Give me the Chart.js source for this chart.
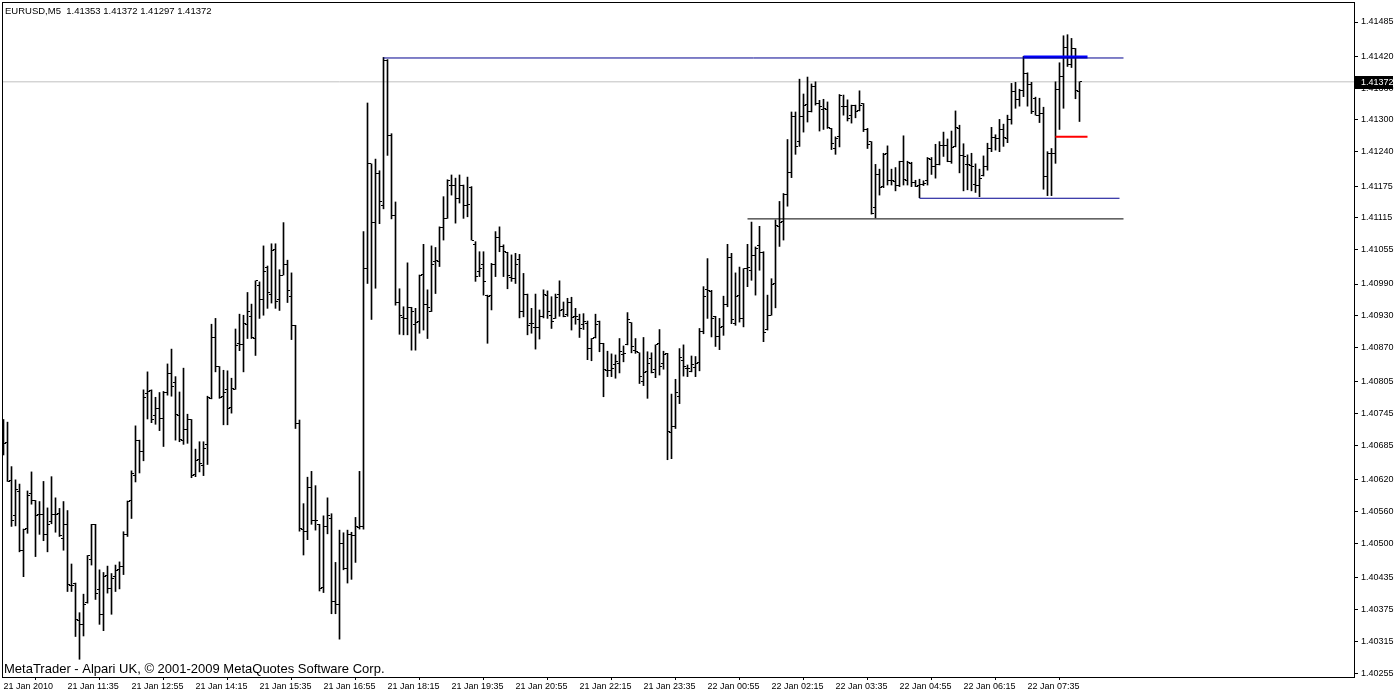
<!DOCTYPE html>
<html>
<head>
<meta charset="utf-8">
<script src="https://cdn.jsdelivr.net/npm/chart.js@4.4.0/dist/chart.umd.min.js"></script>
<style>
  html, body { margin: 0; padding: 0; background: #fff; }
  #wrap { width: 1394px; height: 694px; }
</style>
</head>
<body>
<div id="wrap"><canvas id="chart" width="1394" height="694"></canvas></div>
<script>
// EURUSD M5 bars, 21 Jan 2010 10:15 .. 22 Jan 08:40
const opens = [
  1.40720,1.40691,1.40618,1.40552,1.40598,1.40487,1.40528,1.40595,1.40581,1.40554,
  1.40555,1.40516,1.40542,1.40555,1.40557,1.40509,1.40536,1.40421,1.40425,1.40355,
  1.40346,1.40388,1.40469,1.40536,1.40413,1.40366,1.40440,1.40414,1.40437,1.40451,
  1.40457,1.40516,1.40581,1.40629,1.40695,1.40674,1.40783,1.40788,1.40742,1.40754,
  1.40736,1.40785,1.40821,1.40804,1.40742,1.40694,1.40716,1.40734,1.40631,1.40659,
  1.40648,1.40686,1.40773,1.40889,1.40834,1.40777,1.40791,1.40757,1.40791,1.40877,
  1.40875,1.40913,1.40928,1.40887,1.40988,1.40960,1.41022,1.40971,1.41056,1.40960,
  1.41007,1.41026,1.40967,1.40911,1.40727,1.40527,1.40523,1.40605,1.40543,1.40536,
  1.40417,1.40532,1.40547,1.40391,1.40385,1.40500,1.40452,1.40516,1.40514,1.40530,
  1.40532,1.41020,1.41217,1.41106,1.41199,1.41138,1.41412,1.41271,1.41120,1.40955,
  1.40926,1.40925,1.40946,1.40914,1.40919,1.41008,1.40952,1.40938,1.41032,1.41032,
  1.41097,1.41114,1.41177,1.41176,1.41152,1.41177,1.41138,1.41173,1.41065,1.41013,
  1.41026,1.40969,1.40969,1.41026,1.41078,1.41061,1.41050,1.41002,1.41001,1.41037,
  1.40938,1.40971,1.40916,1.40908,1.40908,1.40928,1.40969,1.40931,1.40925,1.40971,
  1.40941,1.40933,1.40955,1.40929,1.40923,1.40914,1.40915,1.40868,1.40888,1.40920,
  1.40878,1.40827,1.40827,1.40837,1.40839,1.40856,1.40876,1.40917,1.40865,1.40860,
  1.40805,1.40825,1.40849,1.40829,1.40878,1.40840,1.40859,1.40709,1.40721,1.40778,
  1.40846,1.40830,1.40825,1.40832,1.40841,1.40900,1.40979,1.40975,1.40928,1.40890,
  1.40909,1.40951,1.41041,1.40915,1.40969,1.40925,1.41019,1.41016,1.41043,1.41063,
  1.41049,1.40904,1.40931,1.40991,1.41099,1.41109,1.41159,1.41201,1.41306,1.41259,
  1.41306,1.41329,1.41315,1.41363,1.41331,1.41320,1.41320,1.41284,1.41246,1.41268,
  1.41325,1.41325,1.41308,1.41327,1.41317,1.41331,1.41281,1.41259,1.41134,1.41196,
  1.41174,1.41237,1.41185,1.41183,1.41177,1.41221,1.41186,1.41218,1.41181,1.41176,
  1.41178,1.41185,1.41226,1.41212,1.41215,1.41251,1.41251,1.41221,1.41249,1.41283,
  1.41232,1.41215,1.41214,1.41178,1.41177,1.41195,1.41212,1.41246,1.41267,1.41265,
  1.41281,1.41265,1.41300,1.41353,1.41338,1.41355,1.41388,1.41366,1.41341,1.41309,
  1.41313,1.41194,1.41237,1.41236,1.41357,1.41382,1.41437,1.41404,1.41435,1.41353
];
const highs = [
  1.40734,1.40729,1.40645,1.40620,1.40612,1.40527,1.40599,1.40635,1.40581,1.40579,
  1.40617,1.40567,1.40626,1.40586,1.40566,1.40579,1.40562,1.40461,1.40425,1.40369,
  1.40404,1.40477,1.40536,1.40536,1.40450,1.40445,1.40457,1.40443,1.40459,1.40465,
  1.40522,1.40580,1.40637,1.40722,1.40695,1.40790,1.40824,1.40790,1.40776,1.40785,
  1.40787,1.40839,1.40867,1.40815,1.40786,1.40831,1.40744,1.40734,1.40678,1.40692,
  1.40692,1.40778,1.40914,1.40925,1.40834,1.40827,1.40826,1.40812,1.40905,1.40933,
  1.40931,1.40974,1.40952,1.40996,1.40994,1.41062,1.41024,1.41066,1.41066,1.41017,
  1.41106,1.41035,1.41011,1.40912,1.40733,1.40575,1.40625,1.40636,1.40609,1.40536,
  1.40552,1.40586,1.40556,1.40464,1.40525,1.40520,1.40525,1.40521,1.40549,1.40636,
  1.41089,1.41332,1.41217,1.41226,1.41204,1.41418,1.41414,1.41274,1.41145,1.40981,
  1.40947,1.41030,1.40946,1.40944,1.41007,1.41065,1.40979,1.41062,1.41059,1.41098,
  1.41155,1.41187,1.41196,1.41190,1.41196,1.41177,1.41192,1.41174,1.41070,1.41051,
  1.41051,1.40969,1.41029,1.41089,1.41098,1.41064,1.41050,1.41045,1.41048,1.41046,
  1.41010,1.40971,1.40944,1.40971,1.40941,1.40979,1.40977,1.40966,1.40971,1.40996,
  1.40956,1.40963,1.40965,1.40944,1.40933,1.40934,1.40920,1.40887,1.40933,1.40920,
  1.40878,1.40863,1.40858,1.40856,1.40887,1.40873,1.40936,1.40917,1.40887,1.40860,
  1.40889,1.40862,1.40860,1.40875,1.40904,1.40863,1.40859,1.40782,1.40810,1.40868,
  1.40875,1.40837,1.40854,1.40853,1.40906,1.40985,1.41038,1.40978,1.40929,1.40925,
  1.40967,1.41065,1.41048,1.41011,1.41022,1.41019,1.41065,1.41107,1.41060,1.41099,
  1.41051,1.40969,1.41000,1.41111,1.41146,1.41161,1.41263,1.41315,1.41315,1.41377,
  1.41349,1.41381,1.41368,1.41372,1.41337,1.41339,1.41334,1.41284,1.41268,1.41348,
  1.41347,1.41338,1.41328,1.41328,1.41355,1.41331,1.41284,1.41259,1.41216,1.41207,
  1.41237,1.41251,1.41207,1.41210,1.41222,1.41270,1.41222,1.41220,1.41186,1.41188,
  1.41185,1.41229,1.41229,1.41254,1.41259,1.41277,1.41264,1.41279,1.41317,1.41290,
  1.41255,1.41234,1.41237,1.41217,1.41207,1.41232,1.41256,1.41286,1.41272,1.41301,
  1.41292,1.41309,1.41369,1.41371,1.41358,1.41420,1.41389,1.41371,1.41343,1.41341,
  1.41324,1.41240,1.41246,1.41372,1.41408,1.41459,1.41461,1.41454,1.41435,1.41372
];
const lows = [
  1.40667,1.40617,1.40532,1.40533,1.40484,1.40437,1.40519,1.40574,1.40475,1.40517,
  1.40505,1.40484,1.40537,1.40521,1.40513,1.40487,1.40409,1.40409,1.40324,1.40281,
  1.40325,1.40387,1.40459,1.40394,1.40347,1.40335,1.40406,1.40366,1.40409,1.40414,
  1.40441,1.40513,1.40547,1.40616,1.40633,1.40656,1.40735,1.40728,1.40725,1.40713,
  1.40683,1.40780,1.40778,1.40695,1.40692,1.40687,1.40689,1.40624,1.40626,1.40635,
  1.40628,1.40649,1.40773,1.40824,1.40774,1.40724,1.40724,1.40746,1.40791,1.40864,
  1.40824,1.40887,1.40887,1.40855,1.40925,1.40931,1.40944,1.40954,1.40944,1.40940,
  1.41007,1.40955,1.40885,1.40717,1.40523,1.40478,1.40507,1.40536,1.40525,1.40410,
  1.40407,1.40518,1.40367,1.40367,1.40319,1.40450,1.40425,1.40432,1.40464,1.40527,
  1.40527,1.40991,1.40923,1.40982,1.41104,1.41132,1.41233,1.41113,1.40950,1.40895,
  1.40894,1.40894,1.40865,1.40865,1.40897,1.40903,1.40887,1.40938,1.40972,1.41023,
  1.41073,1.41114,1.41158,1.41105,1.41143,1.41114,1.41117,1.41073,1.40995,1.41004,
  1.40969,1.40878,1.40941,1.41004,1.41051,1.41004,1.40981,1.40995,1.40991,1.40926,
  1.40928,1.40894,1.40897,1.40867,1.40886,1.40926,1.40925,1.40906,1.40925,1.40929,
  1.40928,1.40929,1.40903,1.40914,1.40889,1.40904,1.40847,1.40845,1.40888,1.40862,
  1.40777,1.40815,1.40815,1.40812,1.40822,1.40843,1.40875,1.40860,1.40859,1.40802,
  1.40798,1.40774,1.40822,1.40813,1.40818,1.40829,1.40658,1.40660,1.40717,1.40764,
  1.40816,1.40815,1.40824,1.40815,1.40826,1.40896,1.40925,1.40890,1.40872,1.40866,
  1.40893,1.40947,1.40915,1.40912,1.40918,1.40909,1.40985,1.40997,1.40969,1.41016,
  1.40881,1.40903,1.40931,1.40945,1.41061,1.41073,1.41137,1.41191,1.41235,1.41250,
  1.41277,1.41296,1.41315,1.41328,1.41279,1.41282,1.41284,1.41244,1.41235,1.41249,
  1.41309,1.41298,1.41294,1.41304,1.41317,1.41278,1.41246,1.41122,1.41115,1.41158,
  1.41172,1.41177,1.41177,1.41166,1.41174,1.41177,1.41177,1.41174,1.41174,1.41153,
  1.41176,1.41177,1.41197,1.41190,1.41215,1.41231,1.41221,1.41218,1.41249,1.41200,
  1.41166,1.41168,1.41166,1.41163,1.41155,1.41194,1.41205,1.41240,1.41243,1.41240,
  1.41250,1.41257,1.41292,1.41322,1.41326,1.41344,1.41326,1.41312,1.41309,1.41295,
  1.41169,1.41157,1.41157,1.41218,1.41282,1.41322,1.41401,1.41399,1.41340,1.41297
];
const closes = [
  1.40689,1.40617,1.40544,1.40601,1.40487,1.40526,1.40591,1.40581,1.40552,1.40555,
  1.40516,1.40536,1.40555,1.40555,1.40514,1.40536,1.40423,1.40421,1.40356,1.40346,
  1.40385,1.40477,1.40536,1.40406,1.40365,1.40437,1.40415,1.40433,1.40448,1.40457,
  1.40516,1.40579,1.40632,1.40695,1.40674,1.40776,1.40787,1.40734,1.40754,1.40735,
  1.40785,1.40821,1.40797,1.40744,1.40697,1.40716,1.40734,1.40629,1.40657,1.40650,
  1.40679,1.40775,1.40889,1.40834,1.40775,1.40785,1.40755,1.40792,1.40873,1.40875,
  1.40916,1.40938,1.40889,1.40996,1.40960,1.41013,1.40974,1.41053,1.40957,1.41007,
  1.41026,1.40977,1.40911,1.40727,1.40529,1.40523,1.40605,1.40543,1.40543,1.40414,
  1.40532,1.40552,1.40391,1.40385,1.40500,1.40452,1.40516,1.40514,1.40532,1.40532,
  1.41020,1.41217,1.41106,1.41199,1.41145,1.41412,1.41271,1.41120,1.40955,1.40930,
  1.40925,1.40946,1.40938,1.40917,1.41007,1.40952,1.40945,1.41026,1.41035,1.41097,
  1.41114,1.41185,1.41176,1.41152,1.41177,1.41138,1.41141,1.41073,1.41004,1.41020,
  1.40995,1.40966,1.41026,1.41078,1.41061,1.41051,1.41007,1.41001,1.41027,1.40938,
  1.40971,1.40911,1.40916,1.40908,1.40928,1.40971,1.40938,1.40920,1.40965,1.40939,
  1.40929,1.40955,1.40927,1.40929,1.40906,1.40919,1.40868,1.40887,1.40914,1.40878,
  1.40829,1.40827,1.40830,1.40843,1.40863,1.40859,1.40922,1.40871,1.40862,1.40815,
  1.40822,1.40839,1.40823,1.40875,1.40835,1.40857,1.40712,1.40721,1.40785,1.40851,
  1.40835,1.40830,1.40837,1.40839,1.40900,1.40967,1.40978,1.40925,1.40890,1.40908,
  1.40951,1.41041,1.40922,1.40966,1.40925,1.41019,1.41021,1.41044,1.41057,1.41049,
  1.40899,1.40931,1.40990,1.41101,1.41107,1.41159,1.41201,1.41306,1.41250,1.41306,
  1.41328,1.41315,1.41363,1.41331,1.41326,1.41322,1.41286,1.41256,1.41265,1.41346,
  1.41325,1.41303,1.41327,1.41316,1.41327,1.41281,1.41254,1.41123,1.41197,1.41172,
  1.41235,1.41185,1.41185,1.41176,1.41221,1.41188,1.41220,1.41182,1.41175,1.41178,
  1.41180,1.41227,1.41212,1.41215,1.41251,1.41251,1.41221,1.41248,1.41285,1.41232,
  1.41231,1.41215,1.41212,1.41177,1.41190,1.41212,1.41246,1.41267,1.41265,1.41281,
  1.41267,1.41300,1.41353,1.41338,1.41355,1.41388,1.41366,1.41316,1.41309,1.41313,
  1.41194,1.41237,1.41236,1.41357,1.41382,1.41437,1.41404,1.41435,1.41355,1.41372
];

// time axis: a label every 16 bars
const tickBars = [0, 16, 32, 48, 64, 80, 96, 112, 128, 144, 160, 176, 192, 208, 224, 240, 256];
const tickLabels = [
  "21 Jan 2010", "21 Jan 11:35", "21 Jan 12:55", "21 Jan 14:15", "21 Jan 15:35",
  "21 Jan 16:55", "21 Jan 18:15", "21 Jan 19:35", "21 Jan 20:55", "21 Jan 22:15",
  "21 Jan 23:35", "22 Jan 00:55", "22 Jan 02:15", "22 Jan 03:35", "22 Jan 04:55",
  "22 Jan 06:15", "22 Jan 07:35"
];
const priceTicks = [
  1.41485, 1.41420, 1.41360, 1.41300, 1.41240, 1.41175, 1.41115, 1.41055, 1.40990, 1.40930,
  1.40870, 1.40805, 1.40745, 1.40685, 1.40620, 1.40560, 1.40500, 1.40435, 1.40375, 1.40315, 1.40255
];

// drawn objects: price level and bar span
const resistance = { price: 1.41417, from: 95, to: 280 };
const highZone   = { price: 1.41419, from: 255, to: 271 };
const support    = { price: 1.41113, from: 186, to: 280 };
const lowerBlue  = { price: 1.41152, from: 229, to: 279 };
const redLevel   = { price: 1.41268, from: 263, to: 271 };

const symbolText = "EURUSD,M5  1.41353 1.41372 1.41297 1.41372";
const footerText = "MetaTrader - Alpari UK, \u00A9 2001-2009 MetaQuotes Software Corp.";
const FONT = 'Liberation Sans, Arial, sans-serif';

// open tick on the left, close tick on the right of the bar
function tickImage(side) {
  const c = document.createElement('canvas');
  c.width = 5;
  c.height = 1;
  const g = c.getContext('2d');
  g.fillStyle = '#000';
  g.fillRect(side === 'left' ? 0 : 3, 0, 2, 1);
  return c;
}

function levelLine(level, color, width) {
  return {
    type: 'line',
    data: [{ x: level.from, y: level.price }, { x: level.to, y: level.price }],
    borderColor: color,
    borderWidth: width,
    pointRadius: 0,
    order: 0
  };
}

// the plot frame is fixed, so drop the label overhang padding
function noPadding(s) {
  s.paddingLeft = 0;
  s.paddingRight = 0;
  s.paddingTop = 0;
  s.paddingBottom = 0;
}

const lastClose = closes[closes.length - 1];

const decor = {
  id: 'decor',
  beforeDatasetsDraw(chart) {
    chart.ctx.imageSmoothingEnabled = false;
  },
  afterDraw(chart) {
    const { ctx, chartArea: a, scales } = chart;
    ctx.save();
    ctx.strokeStyle = '#000';
    ctx.lineWidth = 1;
    ctx.strokeRect(a.left + 0.5, a.top + 0.5, a.right - a.left, a.bottom - a.top);

    ctx.fillStyle = '#000';
    ctx.textBaseline = 'middle';
    ctx.textAlign = 'left';
    ctx.font = '9.5px ' + FONT;
    ctx.fillText(symbolText, a.left + 3, a.top + 9);
    ctx.font = '13px ' + FONT;
    ctx.fillText(footerText, a.left + 2, a.bottom - 8);

    // current price marker on the axis
    const y = Math.round(scales.y.getPixelForValue(lastClose));
    ctx.fillRect(a.right + 1, y - 6, 38, 13);
    ctx.fillStyle = '#fff';
    ctx.font = '9px ' + FONT;
    ctx.fillText(lastClose.toFixed(5), a.right + 7, y + 0.5);
    ctx.restore();
  }
};

new Chart(document.getElementById('chart'), {
  type: 'bar',
  data: {
    datasets: [
      {
        type: 'bar',
        data: lows.map((l, i) => ({ x: i, y: [l, highs[i]] })),
        backgroundColor: '#000',
        borderWidth: 0,
        barThickness: 1,
        order: 2
      },
      {
        type: 'line',
        data: opens.map((v, i) => ({ x: i, y: v })),
        showLine: false,
        pointStyle: tickImage('left'),
        pointRadius: 1,
        order: 1
      },
      {
        type: 'line',
        data: closes.map((v, i) => ({ x: i, y: v })),
        showLine: false,
        pointStyle: tickImage('right'),
        pointRadius: 1,
        order: 1
      },
      {
        type: 'line',
        data: [{ x: -1, y: lastClose }, { x: 340, y: lastClose }],
        borderColor: '#c0c0c0',
        borderWidth: 1,
        pointRadius: 0,
        order: 9
      },
      levelLine(resistance, '#000090', 1),
      levelLine(support, '#000000', 1),
      levelLine(lowerBlue, '#000090', 1),
      levelLine(highZone, '#0000ff', 3),
      levelLine(redLevel, '#ff0000', 2)
    ]
  },
  options: {
    responsive: false,
    animation: false,
    events: [],
    layout: { autoPadding: false, padding: { left: 2, top: 2, right: 0, bottom: 0 } },
    plugins: { legend: { display: false }, tooltip: { enabled: false } },
    scales: {
      x: {
        type: 'linear',
        min: -0.375,
        max: 337.625,
        offset: false,
        afterBuildTicks: (s) => { s.ticks = tickBars.map(v => ({ value: v })); },
        afterFit: (s) => { s.height = 17; noPadding(s); },
        grid: { display: true, drawOnChartArea: false, tickLength: 3, color: '#000' },
        border: { display: false },
        ticks: {
          autoSkip: false,
          maxRotation: 0,
          align: 'start',
          padding: 1,
          color: '#000',
          font: { family: FONT, size: 9 },
          callback: (v, k) => tickLabels[k]
        }
      },
      y: {
        position: 'right',
        min: 1.402475,
        max: 1.415228,
        afterBuildTicks: (s) => { s.ticks = priceTicks.map(v => ({ value: v })); },
        afterFit: (s) => { s.width = 40; noPadding(s); },
        grid: { display: true, drawOnChartArea: false, tickLength: 4, color: '#000' },
        border: { display: false },
        ticks: {
          autoSkip: false,
          padding: 3,
          color: '#000',
          font: { family: FONT, size: 9 },
          callback: (v) => v.toFixed(5)
        }
      }
    }
  },
  plugins: [decor]
});
</script>
</body>
</html>
